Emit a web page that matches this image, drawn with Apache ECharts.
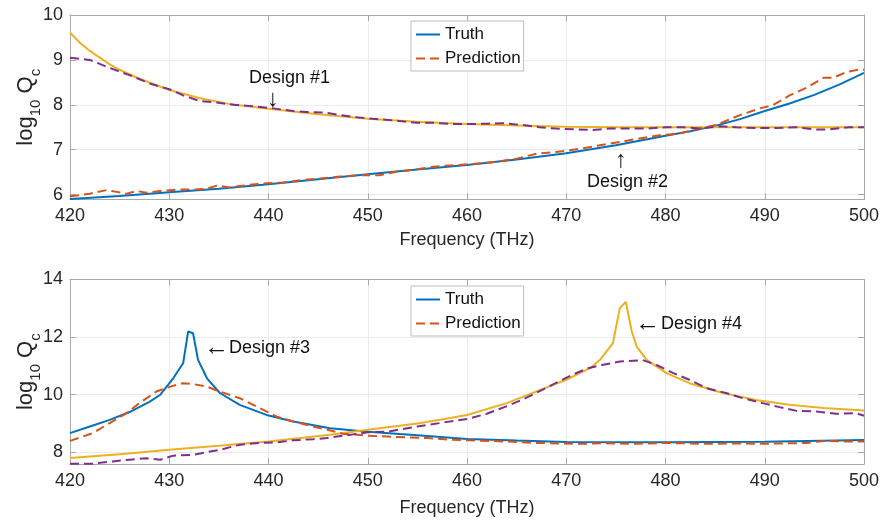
<!DOCTYPE html>
<html>
<head>
<meta charset="utf-8">
<script src="https://cdn.jsdelivr.net/npm/echarts@6/dist/echarts.min.js"></script>
<style>
  html, body { margin: 0; padding: 0; background: #fff; }
  #chart { width: 880px; height: 520px; }
</style>
</head>
<body>
<div id="chart"></div>
<script>
// top panel: designs #1 and #2
var d1Freq = [420, 421, 422, 423, 424, 425, 427, 430, 433, 436, 440, 445, 450, 455, 460, 465, 470, 475, 480, 490, 500];
var d1Truth = [9.61, 9.38, 9.2, 9.05, 8.9, 8.78, 8.58, 8.33, 8.15, 8.02, 7.91, 7.79, 7.69, 7.62, 7.57, 7.54, 7.51, 7.5, 7.5, 7.5, 7.5];
var d1PredFreq = [420, 422, 424, 426, 428.1, 430.1, 431.4, 433.1, 434.8, 436.5, 438.3, 440.5, 442.5, 443.8, 445.5, 448.5, 450.5, 452.6, 454.9, 456.6, 458.6, 460.3, 462, 463.6, 466, 467.3, 469, 471, 472.7, 474.4, 476.4, 478.1, 480.1, 481.8, 483.4, 485.5, 487.1, 489.1, 491.2, 493.2, 495.2, 496.5, 498.5, 500];
var d1Pred = [9.05, 9.0, 8.82, 8.66, 8.47, 8.34, 8.21, 8.08, 8.05, 8.0, 7.97, 7.92, 7.86, 7.84, 7.83, 7.73, 7.69, 7.65, 7.6, 7.6, 7.57, 7.57, 7.58, 7.59, 7.54, 7.5, 7.47, 7.45, 7.44, 7.47, 7.47, 7.47, 7.5, 7.5, 7.47, 7.52, 7.5, 7.48, 7.48, 7.5, 7.45, 7.45, 7.5, 7.5];

var d2Freq = [420, 425, 430, 435, 440, 445, 450, 455, 460, 465, 470, 475, 480, 482.5, 485, 487.5, 490, 492.5, 495, 497.5, 500];
var d2Truth = [5.9, 5.97, 6.05, 6.13, 6.23, 6.34, 6.45, 6.56, 6.66, 6.78, 6.92, 7.1, 7.31, 7.41, 7.53, 7.68, 7.86, 8.03, 8.22, 8.45, 8.71];
var d2PredFreq = [420, 420.7, 422, 423.7, 424.7, 425.7, 426.7, 427.7, 429.1, 430.7, 432.4, 433.8, 434.8, 436.1, 437.8, 439.8, 441.5, 443.2, 445.2, 447.2, 449.2, 451.2, 452.9, 454.6, 456.6, 458.3, 460.6, 462.6, 465, 467, 469, 471.4, 473.4, 475.4, 477.4, 479.4, 481.4, 483.4, 485.1, 487.5, 489.5, 490.8, 492.5, 494.2, 495.9, 496.9, 498.2, 499.6, 500];
var d2Pred = [5.96, 5.98, 6.02, 6.1, 6.06, 6.02, 6.08, 6.04, 6.08, 6.11, 6.11, 6.13, 6.2, 6.16, 6.21, 6.25, 6.27, 6.32, 6.36, 6.4, 6.43, 6.43, 6.51, 6.55, 6.62, 6.65, 6.68, 6.72, 6.8, 6.91, 6.95, 7.02, 7.1, 7.17, 7.25, 7.32, 7.36, 7.47, 7.55, 7.77, 7.92, 7.99, 8.21, 8.38, 8.6, 8.6, 8.73, 8.79, 8.78];

// bottom panel: designs #3 and #4
var d3Freq = [420, 422, 424, 426, 428, 429.1, 430.4, 431.4, 431.9, 432.4, 432.9, 433.8, 435.1, 437.1, 439.8, 442.5, 446.2, 450, 455, 460, 465, 470, 480, 490, 500];
var d3Truth = [8.67, 8.9, 9.13, 9.4, 9.75, 10.0, 10.57, 11.09, 12.19, 12.13, 11.21, 10.57, 10.06, 9.65, 9.3, 9.07, 8.84, 8.72, 8.6, 8.47, 8.41, 8.36, 8.35, 8.37, 8.43];
var d3PredFreq = [420, 422.3, 424, 425.7, 427, 428.7, 430.1, 431.4, 432.4, 433.8, 435.1, 437.1, 439.1, 440.8, 442.5, 444.5, 445.9, 447.5, 450, 452, 454, 456, 458, 460, 464, 467, 471.4, 474, 477, 480, 484.1, 487, 490, 494.2, 496, 498, 500];
var d3Pred = [8.4, 8.67, 9.02, 9.36, 9.71, 10.11, 10.28, 10.4, 10.37, 10.28, 10.11, 9.88, 9.54, 9.25, 9.07, 8.9, 8.79, 8.65, 8.58, 8.55, 8.52, 8.5, 8.45, 8.42, 8.38, 8.33, 8.3, 8.32, 8.3, 8.33, 8.3, 8.31, 8.3, 8.33, 8.4, 8.38, 8.38];

var d4Freq = [420, 425, 430, 435, 440, 446.2, 450, 455, 457.3, 460, 464, 467.4, 470, 472.4, 473.4, 474.7, 475.4, 476, 476.6, 477.1, 478.1, 480.1, 482.4, 485.8, 489.1, 492.5, 495.9, 500];
var d4Truth = [7.81, 7.94, 8.09, 8.23, 8.38, 8.61, 8.79, 9.0, 9.13, 9.3, 9.71, 10.17, 10.52, 10.92, 11.21, 11.79, 13.0, 13.22, 12.19, 11.67, 11.21, 10.75, 10.4, 10.06, 9.82, 9.65, 9.54, 9.45];
var d4PredFreq = [420, 422.3, 424.3, 426, 427.7, 429.1, 430.4, 432.4, 433.8, 435.1, 437.1, 439.1, 440.8, 442.5, 444.5, 445.9, 450, 452, 455, 457.3, 460, 462, 463.9, 465.9, 468.2, 470.6, 472.2, 473.6, 475.4, 477.7, 479.1, 480.8, 482.4, 484.1, 486.1, 487.8, 489.8, 491.5, 493.2, 495.2, 497.2, 499.2, 500];
var d4Pred = [7.61, 7.61, 7.69, 7.75, 7.8, 7.75, 7.89, 7.92, 8.01, 8.09, 8.27, 8.33, 8.35, 8.42, 8.46, 8.5, 8.7, 8.72, 8.9, 9.02, 9.16, 9.34, 9.59, 9.88, 10.28, 10.69, 10.92, 11.03, 11.15, 11.2, 11.03, 10.75, 10.52, 10.23, 10.06, 9.88, 9.71, 9.57, 9.44, 9.42, 9.34, 9.36, 9.27];

var blue = '#0072BD', orange = '#D95319', yellow = '#EDB120', purple = '#7E2F8E';
var font = '"Liberation Sans", Arial, Helvetica, sans-serif';
var boxColor = '#a8a8a8';

function pairs(xs, ys) {
    return xs.map(function (x, i) { return [x, ys[i]]; });
}

function line(name, xs, ys, color, dashed, axis) {
    return {
        name: name,
        type: 'line',
        xAxisIndex: axis,
        yAxisIndex: axis,
        data: pairs(xs, ys),
        symbol: 'none',
        smooth: false,
        lineStyle: { color: color, width: 2, type: dashed ? [9, 5] : 'solid' },
        itemStyle: { color: color },
        z: dashed ? 3 : 2
    };
}

function xAxes(grid, gap) {
    return [{
        type: 'value', gridIndex: grid, min: 420, max: 500, interval: 10,
        name: 'Frequency (THz)', nameLocation: 'middle', nameGap: gap,
        nameTextStyle: { fontFamily: font, fontSize: 18, color: '#262626' },
        axisLine: { lineStyle: { color: boxColor } },
        axisTick: { inside: true, length: 6, lineStyle: { color: boxColor } },
        axisLabel: { fontFamily: font, fontSize: 18, color: '#262626', margin: 8 },
        splitLine: { show: true, lineStyle: { color: '#ebebeb' } }
    }, {
        type: 'value', gridIndex: grid, position: 'top', min: 420, max: 500, interval: 10,
        axisLine: { lineStyle: { color: boxColor } },
        axisTick: { inside: true, length: 6, lineStyle: { color: boxColor } },
        axisLabel: { show: false },
        splitLine: { show: false }
    }];
}

function yAxes(grid, min, max, split) {
    return [{
        type: 'value', gridIndex: grid, min: min, max: max, splitNumber: split,
        name: '{n|log}{s|10}{n| Q}{s|c}', nameLocation: 'middle', nameGap: 27, nameRotate: 90,
        nameMoveOverlap: false,
        nameTextStyle: {
            fontFamily: font, color: '#262626',
            rich: {
                n: { fontFamily: font, fontSize: 22, color: '#262626', lineHeight: 28, verticalAlign: 'top' },
                s: { fontFamily: font, fontSize: 15, color: '#262626', lineHeight: 16, verticalAlign: 'bottom' }
            }
        },
        axisLine: { show: true, lineStyle: { color: boxColor } },
        axisTick: { show: true, inside: true, length: 6, lineStyle: { color: boxColor } },
        axisLabel: { fontFamily: font, fontSize: 18, color: '#262626', margin: 7, showMinLabel: false },
        splitLine: { show: true, lineStyle: { color: '#ebebeb' } }
    }, {
        type: 'value', gridIndex: grid, position: 'right', min: min, max: max, splitNumber: split,
        axisLine: { show: true, lineStyle: { color: boxColor } },
        axisTick: { show: true, inside: true, length: 6, lineStyle: { color: boxColor } },
        axisLabel: { show: false },
        splitLine: { show: false }
    }];
}

function legendAt(top) {
    return {
        data: ['Truth', 'Prediction'],
        orient: 'vertical',
        left: 411, top: top,
        padding: [5, 3, 4, 4],
        itemGap: 7, itemWidth: 24, itemHeight: 14,
        borderColor: '#bdbdbd', borderWidth: 1, backgroundColor: '#fff',
        selectedMode: false,
        itemStyle: { color: 'rgba(0,0,0,0)', borderWidth: 0, opacity: 0 },
        textStyle: { fontFamily: font, fontSize: 17, color: '#111' }
    };
}

function note(text, x, y, align, size) {
    return {
        type: 'text',
        style: {
            text: text, x: x, y: y, align: align || 'left', verticalAlign: 'middle',
            font: (size || 18) + 'px ' + font, fill: '#111'
        },
        z: 100
    };
}

var chart = echarts.init(document.getElementById('chart'));
chart.setOption({
    animation: false,
    backgroundColor: '#fff',
    grid: [
        { left: 70, right: 16, top: 15, height: 184.5, outerBoundsMode: 'none' },
        { left: 70, right: 16, top: 279.3, height: 184.7, outerBoundsMode: 'none' }
    ],
    legend: [legendAt(21), legendAt(286)],
    xAxis: xAxes(0, 32).concat(xAxes(1, 35)),
    yAxis: yAxes(0, 5.89, 10, 4).concat(yAxes(1, 7.6, 14, 3)),
    series: [
        line('Truth', d2Freq, d2Truth, blue, false, 0),
        line('Prediction', d2PredFreq, d2Pred, orange, true, 0),
        line('Truth #1', d1Freq, d1Truth, yellow, false, 0),
        line('Prediction #1', d1PredFreq, d1Pred, purple, true, 0),
        line('Truth', d3Freq, d3Truth, blue, false, 2),
        line('Prediction', d3PredFreq, d3Pred, orange, true, 2),
        line('Truth #4', d4Freq, d4Truth, yellow, false, 2),
        line('Prediction #4', d4PredFreq, d4Pred, purple, true, 2)
    ],
    graphic: [
        note('Design #1', 249, 78),
        note('\u2193', 273, 99, 'center', 24),
        note('\u2191', 621, 160, 'center', 24),
        note('Design #2', 587, 182),
        note('\u2190', 204, 348, 'left', 25),
        note('Design #3', 229, 348),
        note('\u2190', 635, 324, 'left', 25),
        note('Design #4', 661, 324)
    ]
});
</script>
</body>
</html>
